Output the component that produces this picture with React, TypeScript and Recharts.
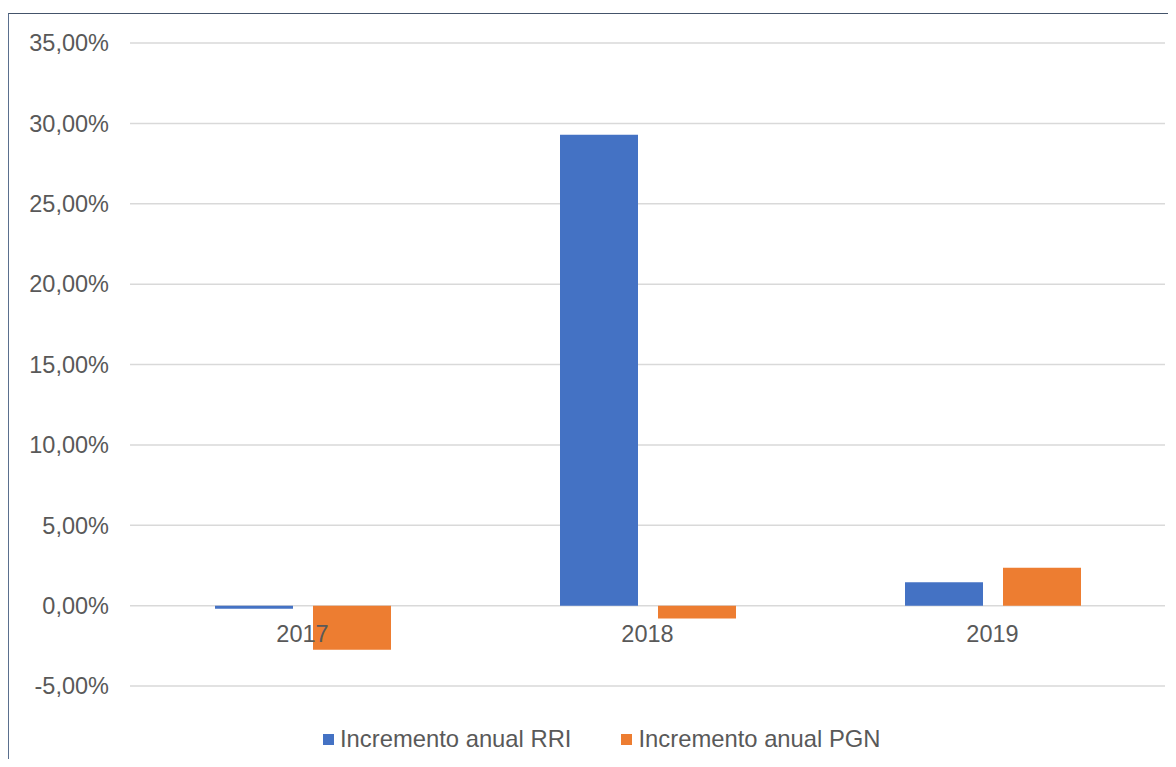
import { BarChart, Bar, XAxis, YAxis, CartesianGrid, Legend } from 'recharts';

const years = ['2017', '2018', '2019'];
const rriValues = [-0.2, 29.3, 1.45];
const pgnValues = [-2.75, -0.8, 2.35];
const yTicks = [-5, 0, 5, 10, 15, 20, 25, 30, 35];

const seriesNames = ['Incremento anual RRI', 'Incremento anual PGN'];
const seriesColors = ['#4472C4', '#ED7D31'];

const data = years.map((year, i) => ({
    year,
    rri: rriValues[i],
    pgn: pgnValues[i],
}));

const CHART_W = 1159;
const CHART_H = 740;
const X_AXIS_H = 30;
const MARGIN = { top: 29, right: 3, bottom: 38, left: 0 };
const Y_MIN = -5;
const Y_MAX = 35;
const PLOT_H = CHART_H - MARGIN.top - MARGIN.bottom - X_AXIS_H;
const FONT = '"Liberation Sans", Arial, sans-serif';
const TEXT_COLOR = '#595959';

const formatPct = (v: number) => `${v.toFixed(2).replace('.', ',')}%`;

// Excel puts category labels just under the 0 line, not at the bottom of the plot
const renderYearTick = (props: any) => {
    const { x, y, payload } = props;
    const zeroY = y - (PLOT_H * (0 - Y_MIN)) / (Y_MAX - Y_MIN);
    return (
        <text
            key={payload.value}
            x={x}
            y={zeroY + 28}
            textAnchor="middle"
            dominantBaseline="central"
            fill={TEXT_COLOR}
            fontSize={23.5}
            fontFamily={FONT}
        >
            {payload.value}
        </text>
    );
};

function LegendContent() {
    return (
        <div style={{ display: 'flex', alignItems: 'center', fontFamily: FONT, fontSize: 23.8, color: TEXT_COLOR, whiteSpace: 'nowrap' }}>
            {seriesNames.map((name, i) => (
                <div key={name} style={{ display: 'flex', alignItems: 'center', marginRight: i === 0 ? 50 : 0 }}>
                    <span style={{ width: 11, height: 11, background: seriesColors[i], marginRight: 6, display: 'inline-block' }} />
                    <span>{name}</span>
                </div>
            ))}
        </div>
    );
}

export default function App() {
    return (
        <div
            style={{
                marginTop: 5,
                marginBottom: -8,
                width: CHART_W,
                height: 753,
                borderLeft: '1px solid #5a6f8e',
                borderTop: '1px solid #44546a',
                background: '#fff',
            }}
        >
            <BarChart width={CHART_W} height={CHART_H} data={data} margin={MARGIN} barSize={78} barGap={20}>
                <CartesianGrid vertical={false} stroke="#d9d9d9" strokeWidth={1.5} />
                <XAxis
                    dataKey="year"
                    height={X_AXIS_H}
                    axisLine={false}
                    tickLine={false}
                    tickSize={0}
                    tickMargin={0}
                    tick={renderYearTick}
                    interval={0}
                />
                <YAxis
                    width={121}
                    domain={[Y_MIN, Y_MAX]}
                    ticks={yTicks}
                    interval={0}
                    axisLine={false}
                    tickLine={false}
                    tickSize={0}
                    tickMargin={21}
                    tickFormatter={formatPct}
                    tick={{ fill: TEXT_COLOR, fontSize: 23.5, fontFamily: FONT }}
                />
                <Legend
                    layout="horizontal"
                    verticalAlign="middle"
                    align="center"
                    content={<LegendContent />}
                    wrapperStyle={{ top: 711, left: 314, width: 'auto' }}
                />
                <Bar dataKey="rri" name={seriesNames[0]} fill={seriesColors[0]} isAnimationActive={false} />
                <Bar dataKey="pgn" name={seriesNames[1]} fill={seriesColors[1]} isAnimationActive={false} />
            </BarChart>
        </div>
    );
}
